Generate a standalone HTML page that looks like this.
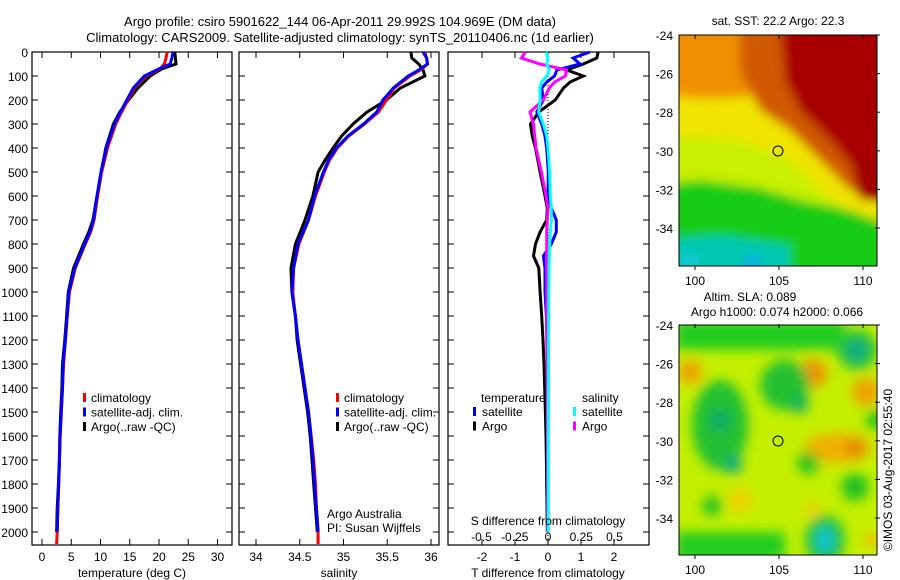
<!DOCTYPE html>
<html><head><meta charset="utf-8"><style>
html,body{margin:0;padding:0;background:#fff}
svg{display:block;font-family:"Liberation Sans",sans-serif;font-size:12px}
</style></head><body>
<svg id="fig" width="900" height="580" viewBox="0 0 900 580">
<defs>
<filter id="blur1" x="-20%" y="-20%" width="140%" height="140%"><feGaussianBlur stdDeviation="5"/></filter>
<filter id="blur2" x="-20%" y="-20%" width="140%" height="140%"><feGaussianBlur stdDeviation="6"/></filter>
<clipPath id="clipTop"><rect x="679" y="35" width="198" height="231"/></clipPath>
<clipPath id="clipBot"><rect x="679" y="325" width="198" height="230"/></clipPath>
</defs>
<text x="340" y="26" text-anchor="middle" font-size="13">Argo profile: csiro 5901622_144 06-Apr-2011 29.992S 104.969E (DM data)</text>
<text x="340" y="42" text-anchor="middle" font-size="13">Climatology: CARS2009. Satellite-adjusted climatology: synTS_20110406.nc (1d earlier)</text>

<g>
<g clip-path="url(#clipTop)">
<rect x="679" y="35" width="198" height="231" fill="#e8e000"/>
<g filter="url(#blur1)">
<polygon points="660,20 800,20 790,70 760,95 700,100 660,105" fill="#f09000"/>
<polygon points="660,95 720,100 770,95 800,120 830,160 860,200 890,210 890,260 660,260" fill="#f0e400"/>
<polygon points="660,135 740,140 790,160 820,190 860,220 890,230 890,290 660,290" fill="#c8f000"/>
<polygon points="660,185 700,180 760,188 800,200 850,210 890,225 890,290 660,290" fill="#18cc18"/>
<polygon points="740,20 800,20 890,20 890,205 850,190 820,160 790,130 760,110 740,70" fill="#d05800"/>
<polygon points="780,20 890,20 890,185 860,175 830,140 800,110 785,80" fill="#a80000"/>
<polygon points="850,160 890,160 890,200 860,200" fill="#a00000"/>
<polygon points="660,240 720,235 790,245 790,290 660,290" fill="#00c8b0"/>
<circle cx="752" cy="264" r="8" fill="#10a8f0"/>
<circle cx="690" cy="262" r="10" fill="#10c8d0"/>
</g>
</g>
<rect x="679" y="35" width="198" height="231" fill="none" stroke="#000"/>
<circle cx="778" cy="151" r="5" fill="none" stroke="#000"/>
</g>
<text x="778" y="25" text-anchor="middle">sat. SST: 22.2 Argo: 22.3</text>

<g>
<g clip-path="url(#clipBot)">
<rect x="679" y="325" width="198" height="230" fill="#c4f000"/>
<g filter="url(#blur2)">
<rect x="675" y="320" width="170" height="30" fill="#22cc22"/>
<circle cx="690" cy="372" r="12" fill="#f0a000"/>
<circle cx="813" cy="373" r="14" fill="#f09000"/>
<circle cx="866" cy="392" r="14" fill="#f0a000"/>
<circle cx="857" cy="350" r="20" fill="#20c040"/>
<circle cx="857" cy="350" r="9" fill="#10a890"/>
<ellipse cx="720" cy="425" rx="28" ry="45" fill="#20c030"/>
<circle cx="720" cy="420" r="10" fill="#10a870"/>
<circle cx="733" cy="465" r="9" fill="#10a880"/>
<ellipse cx="785" cy="385" rx="25" ry="25" fill="#20c030"/>
<circle cx="800" cy="405" r="8" fill="#10a870"/>
<ellipse cx="838" cy="448" rx="34" ry="15" fill="#f0b000"/>
<circle cx="855" cy="448" r="9" fill="#e08000"/>
<circle cx="808" cy="463" r="11" fill="#22c022"/>
<circle cx="855" cy="487" r="14" fill="#22c022"/>
<circle cx="876" cy="420" r="10" fill="#22c022"/>
<circle cx="740" cy="500" r="12" fill="#f0d000"/>
<circle cx="712" cy="506" r="10" fill="#22c022"/>
<circle cx="812" cy="510" r="8" fill="#f0d000"/>
<ellipse cx="825" cy="540" rx="20" ry="25" fill="#20c040"/>
<ellipse cx="825" cy="540" rx="9" ry="13" fill="#10c8d0"/>
<rect x="675" y="532" width="110" height="30" fill="#22cc22"/>
<circle cx="872" cy="540" r="8" fill="#f0c000"/>
</g>
</g>
<rect x="679" y="325" width="198" height="230" fill="none" stroke="#000"/>
<circle cx="778" cy="441" r="5" fill="none" stroke="#000"/>
</g>
<text x="750" y="301" text-anchor="middle">Altim. SLA: 0.089</text>
<text x="777" y="316" text-anchor="middle">Argo h1000: 0.074 h2000: 0.066</text>
<text transform="translate(892,470) rotate(-90)" text-anchor="middle">©IMOS 03-Aug-2017 02:55:40</text>
<g id="plots"></g>
</svg>
<script>
const tempDepths = [0,25,50,70,100,150,200,250,300,400,500,600,700,750,800,900,1000,1100,1200,1300,1400,1500,1600,1700,1800,1900,2000,2050];
const tempClim = [21.4,21.2,20.9,20.2,17.8,15.8,14.7,13.6,12.6,11.2,10.2,9.5,8.9,8.3,7.4,5.7,4.7,4.3,4.0,3.7,3.5,3.3,3.1,3.0,2.85,2.7,2.6,2.5];
const tempSat = [22.4,22.2,21.9,20.0,17.5,15.6,14.5,13.4,12.4,11.0,10.1,9.4,8.8,8.2,7.3,5.6,4.6,4.3,4.0,3.6,3.5,3.3,3.1,3.0,2.85,2.7,2.6];
const tempArgo = [22.7,22.8,22.9,20.5,18.5,16.4,14.8,13.3,12.2,10.9,10.1,9.4,8.7,8.0,7.1,5.4,4.5,4.2,3.9,3.5,3.4,3.2,3.05,2.95,2.8,2.6,2.5];
const salDepths = [0,25,50,75,100,150,200,250,300,350,400,450,500,600,700,800,900,1000,1100,1200,1300,1400,1500,1600,1700,1800,1900,2000,2050];
const salClim = [35.93,35.95,35.96,35.88,35.76,35.58,35.49,35.40,35.24,35.06,34.93,34.84,34.78,34.68,34.60,34.49,34.43,34.42,34.45,34.48,34.52,34.56,34.60,34.63,34.66,34.68,34.69,34.71,34.71];
const salSat = [35.91,35.95,35.96,35.86,35.74,35.57,35.45,35.38,35.23,35.05,34.92,34.83,34.77,34.67,34.60,34.48,34.43,34.41,34.45,34.48,34.52,34.56,34.60,34.63,34.65,34.67,34.69,34.71];
const salArgo = [35.77,35.78,35.86,35.91,35.93,35.65,35.49,35.27,35.11,34.98,34.88,34.79,34.71,34.65,34.56,34.45,34.40,34.41,34.45,34.47,34.51,34.55,34.59,34.62,34.64,34.66,34.68,34.70];
const diffDepths = [0,25,50,75,100,125,150,200,250,300,350,400,500,600,650,700,750,800,850,900,1000,1100,1200,1300,1400,1500,1600,1700,1800,1900,2000];
const diffTSat = [1.27,0.76,0.97,0.27,0.2,-0.04,-0.19,-0.14,-0.34,-0.19,-0.09,-0.04,0.01,0,0.1,0.25,0.25,0.1,-0.14,-0.09,-0.09,-0.05,-0.03,-0.02,-0.02,-0.01,0,0,0,0,0];
const diffTArgo = [1.52,1.48,1.07,0.57,1.07,0.67,0.47,0.22,-0.28,-0.53,-0.48,-0.38,-0.24,-0.09,-0.02,-0.04,-0.24,-0.38,-0.44,-0.28,-0.24,-0.19,-0.15,-0.12,-0.1,-0.08,-0.06,-0.05,-0.04,-0.03,-0.02];
const diffSArgo = [-0.17,-0.2,-0.06,0.14,0.13,0.05,0.01,-0.035,-0.135,-0.11,-0.1,-0.09,-0.05,-0.015,0,-0.005,-0.01,-0.01,-0.01,-0.01,-0.01,-0.01,-0.01,-0.008,-0.006,-0.005,-0.004,-0.003,-0.002,-0.002,-0.002];
const diffSSat = [-0.015,0,-0.01,0.01,-0.01,-0.05,-0.06,-0.06,-0.07,-0.035,-0.01,0,0.012,0.017,0.025,0.025,0.017,0.012,0.01,0.008,0.005,0.005,0.004,0.004,0.003,0.003,0.002,0.002,0.002,0.002,0.002];
const depthTicks = [0,100,200,300,400,500,600,700,800,900,1000,1100,1200,1300,1400,1500,1600,1700,1800,1900,2000];
const tempTicks = [0,5,10,15,20,25,30];
const salTicks = [34,34.5,35,35.5,36];
const salTickLabels = ["34","34.5","35","35.5","36"];
const tDiffTicks = [-2,-1,0,1,2];
const sDiffTicks = [-0.5,-0.25,0,0.25,0.5];
const sDiffTickLabels = ["-0.5","-0.25","0","0.25","0.5"];
const mapLatTicks = [-24,-26,-28,-30,-32,-34];
const mapLonTicks = [100,105,110];

const NS = "http://www.w3.org/2000/svg";
const root = document.getElementById("plots");
function yD(d){ return 52 + 0.24*d; }
function xT(v){ return 42 + 5.85*v; }
function xS(v){ return 256 + 87.5*(v-34); }
function xdT(v){ return 548 + 33*v; }
function xdS(v){ return 548 + 133*v; }
function yLat(v){ return 35 + (-24 - v)*19.3; }
function xLon(v){ return 695 + (v-100)*16.8; }
function mk(tag, attrs, parent){ const e=document.createElementNS(NS,tag); for(const k in attrs) e.setAttribute(k,attrs[k]); (parent||root).appendChild(e); return e; }
function txt(x,y,s,anchor,name){ const e=mk("text",{x:x,y:y,"text-anchor":anchor||"start"}); e.textContent=s;
  
  
  return e; }
function series(depths, vals, xf, color, name){
  const pts = vals.map((v,i)=>xf(v).toFixed(1)+","+yD(depths[i]).toFixed(1)).join(" ");
  const p = mk("polyline",{points:pts,fill:"none",stroke:color,"stroke-width":3,"stroke-linejoin":"miter"});
  
  
}
function frame(x0,x1,name){
  const r = mk("rect",{x:x0,y:52,width:x1-x0,height:493,fill:"none",stroke:"#000","stroke-width":1.2});
  
  
  depthTicks.forEach(d=>{ mk("line",{x1:x0,x2:x0+6,y1:yD(d),y2:yD(d),stroke:"#000"}); mk("line",{x1:x1-6,x2:x1,y1:yD(d),y2:yD(d),stroke:"#000"}); });
}
function xTicks(vals, xf, labels, y, name){
  vals.forEach((v,i)=>{ const x=xf(v); mk("line",{x1:x,x2:x,y1:52,y2:58,stroke:"#000"}); mk("line",{x1:x,x2:x,y1:539,y2:545,stroke:"#000"});
    if(labels) txt(x,y,labels[i],"middle",name); });
}
// panel 1
frame(32,232,"temperature-panel");
depthTicks.forEach(d=>txt(28,yD(d)+5,String(d),"end","depth-tick-label"));
xTicks(tempTicks,xT,tempTicks.map(String),561,"temperature-tick-label");
series(tempDepths,tempArgo,xT,"#000","temp-argo-line");
series(tempDepths,tempClim,xT,"#f00","temp-climatology-line");
series(tempDepths,tempSat,xT,"#00f","temp-satellite-line");
txt(132,577,"temperature (deg C)","middle","temperature-axis-title");
// panel 2
frame(239,439,"salinity-panel");
xTicks(salTicks,xS,salTickLabels,561,"salinity-tick-label");
series(salDepths,salArgo,xS,"#000","sal-argo-line");
series(salDepths,salClim,xS,"#f00","sal-climatology-line");
series(salDepths,salSat,xS,"#00f","sal-satellite-line");
txt(339,577,"salinity","middle","salinity-axis-title");
txt(327,518,"Argo Australia","start","argo-australia-label");
txt(327,532,"PI: Susan Wijffels","start","pi-label");
// legends 1 & 2
[[85,91],[338,344]].forEach((p,k)=>{
  const cols=["#f00","#00f","#000"], labs=["climatology","satellite-adj. clim.","Argo(..raw -QC)"];
  labs.forEach((l,i)=>{ const y=402+i*14.5; const r=mk("rect",{x:p[0]-2,y:y-9,width:3,height:9,fill:cols[i]});
    
    
    txt(p[1],y,l,"start","legend-entry"); });
});
// panel 3
frame(448,649,"difference-panel");
mk("line",{x1:548,x2:548,y1:52,y2:545,stroke:"#000","stroke-dasharray":"1,2"});
xTicks(tDiffTicks,xdT,tDiffTicks.map(String),561,"t-diff-tick-label");
sDiffTickLabels.forEach((l,i)=>txt(xdS(sDiffTicks[i]),541,l,"middle","s-diff-tick-label"));
series(diffDepths,diffTArgo,xdT,"#000","t-diff-argo-line");
series(diffDepths,diffTSat,xdT,"#00f","t-diff-satellite-line");
series(diffDepths,diffSArgo,xdS,"#f0f","s-diff-argo-line");
series(diffDepths,diffSSat,xdS,"#0ff","s-diff-satellite-line");
txt(548,525,"S difference from climatology","middle","s-diff-axis-title");
txt(548,577,"T difference from climatology","middle","t-diff-axis-title");
txt(481,402,"temperature","start","legend-temperature-heading");
txt(582,402,"salinity","start","legend-salinity-heading");
[[473,482,"#00f","satellite"],[473,482,"#000","Argo"],[573,582,"#0ff","satellite"],[573,582,"#f0f","Argo"]].forEach((e,i)=>{
  const y=416+(i%2)*14.5; const r=mk("rect",{x:e[0],y:y-9,width:3,height:9,fill:e[2]});
  
  
  txt(e[1],y,e[3],"start","legend-entry");
});
// map axes
[0,290].forEach(off=>{
  mapLatTicks.forEach(v=>{ const y=yLat(v)+off; txt(673,y+5,String(v),"end","map-lat-tick-label");
    mk("line",{x1:875,x2:880,y1:y,y2:y,stroke:"#000"}); });
  mapLonTicks.forEach(v=>{ const x=xLon(v); const yb=(off?555:266);
    txt(x,yb+19,String(v),"middle","map-lon-tick-label");
    mk("line",{x1:x,x2:x,y1:yb,y2:yb+4,stroke:"#000"}); mk("line",{x1:x,x2:x,y1:yb-231,y2:yb-227,stroke:"#000"}); });
});
</script>
</body></html>
